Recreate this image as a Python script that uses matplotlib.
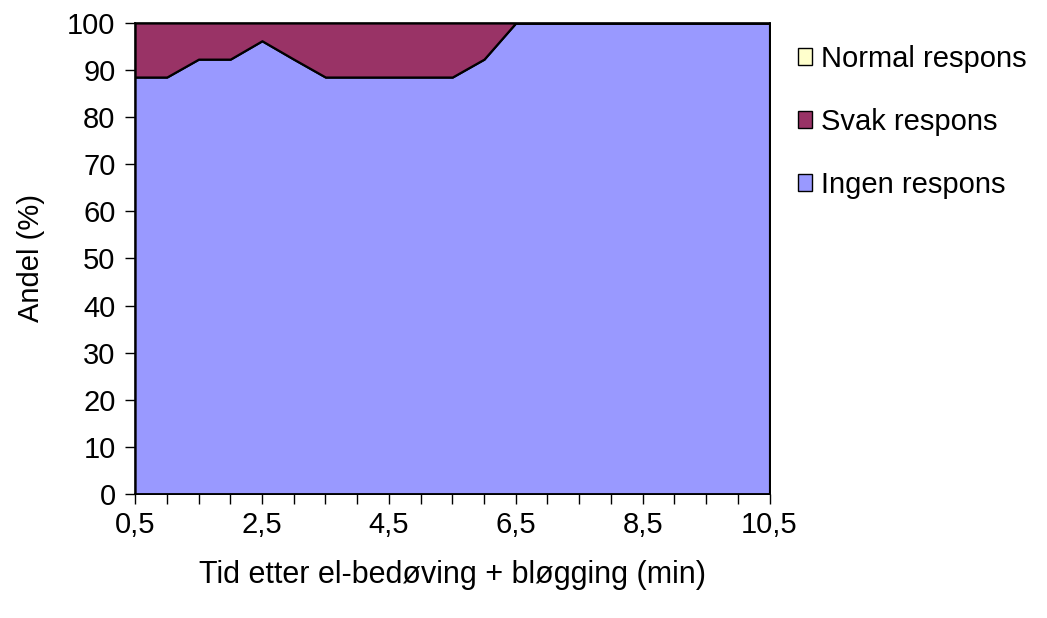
import numpy as np
import matplotlib.pyplot as plt
from matplotlib.patches import Patch

plt.rcParams['font.family'] = ['Liberation Sans', 'DejaVu Sans']

# tid etter bedøving (min)
tid = [0.5, 1.0, 1.5, 2.0, 2.5, 3.0, 3.5, 4.0, 4.5, 5.0, 5.5,
       6.0, 6.5, 7.0, 7.5, 8.0, 8.5, 9.0, 9.5, 10.0, 10.5]
ingen = [88.5, 88.5, 92.3, 92.3, 96.2, 92.3, 88.5, 88.5, 88.5, 88.5, 88.5,
         92.3, 100, 100, 100, 100, 100, 100, 100, 100, 100]
svak = [100 - v for v in ingen]
normal = [0] * len(tid)

labels = ['Ingen respons', 'Svak respons', 'Normal respons']
farger = ['#9999FF', '#993366', '#FFFFCC']

fig = plt.figure(figsize=(10.47, 6.18), dpi=100)
ax = fig.add_axes([0.129, 0.2006, 0.606, 0.7624])

ax.stackplot(tid, ingen, svak, normal, colors=farger,
             edgecolor='black', linewidth=1.6)

ax.set_xlim(0.5, 10.5)
ax.set_ylim(0, 100)
ax.set_xticks(np.arange(0.5, 10.6, 2.0))
ax.set_xticks(tid, minor=True)
ax.set_xticklabels([('%.1f' % v).replace('.', ',') for v in np.arange(0.5, 10.6, 2.0)])
ax.set_yticks(range(0, 101, 10))
ax.tick_params(axis='both', which='both', direction='out', length=7,
               width=1, labelsize=21, color='black')
ax.tick_params(axis='y', pad=7)
ax.tick_params(axis='x', pad=5)
for s in ax.spines.values():
    s.set_color('black')
    s.set_linewidth(1.2)

ax.set_xlabel('Tid etter el-bedøving + bløgging (min)', fontsize=22, labelpad=15)
ax.set_ylabel('Andel (%)', fontsize=21, labelpad=16)

handles = [Patch(facecolor=farger[i], edgecolor='black', label=labels[i])
           for i in [2, 1, 0]]
fig.legend(handles=handles, loc='upper left', bbox_to_anchor=(0.737, 0.97),
           frameon=False, fontsize=21, handlelength=0.5, handleheight=0.5,
           handletextpad=0.3, labelspacing=1.2)

fig.savefig('out.png', dpi=100)
